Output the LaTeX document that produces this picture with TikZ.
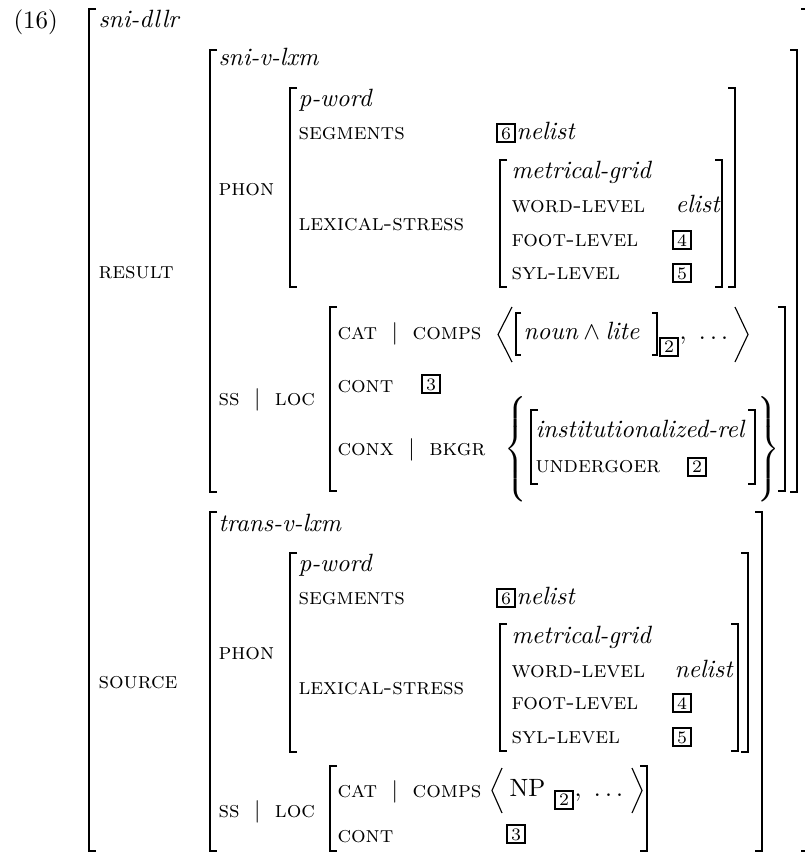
\documentclass[tikz,border=0pt]{standalone}
\usetikzlibrary{positioning}
\tikzset{
  lbl/.style={inner sep=0pt, anchor=base west, font=\fontsize{9.2}{11}\selectfont\scshape},
  typ/.style={inner sep=0pt, anchor=base west, font=\itshape},
  tag/.style={draw, line width=0.8pt, inner sep=0pt, minimum size=7.2pt,
    font=\scriptsize, anchor=base},
  brk/.style={line width=0.7pt},
  ang/.style={line width=0.45pt},
}
\newcommand{\lbrk}[4][7]{\draw[brk] (#2+#1,#3) -| (#2,#4) -- (#2+#1,#4);}
\newcommand{\rbrk}[4][7]{\draw[brk] (#2-#1,#3) -| (#2,#4) -- (#2-#1,#4);}
\newcommand{\pbar}{\hspace{5.8pt}$|$\hspace{5.8pt}}
\newcommand{\bigbrace}[1]{$\left#1\vcenter{\hbox{\rule{0pt}{40pt}}}\right.$}

\begin{document}
\begin{tikzpicture}[x=0.4pt, y=-0.4pt]
  \useasboundingbox (0,0) rectangle (805,854);
  % outer matrix
  \node[inner sep=0pt, anchor=base west] (ex) at (13,28) {(16)};
  \lbrk{89}{9}{851} \rbrk{808}{9}{851}
  \node[typ] (t0) at (98,27) {sni-dllr};
  \node[lbl] (res) at (98,278) {result};
  \node[lbl] (src) at (98,688) {source};

  % result: sni-v-lxm
  \lbrk{210}{50}{492} \rbrk{797}{50}{492}
  \node[typ] (t1) at (218,65) {sni-v-lxm};
  \node[lbl] (ph1) at (218,195) {phon};
  \lbrk{290}{88}{287} \rbrk{735}{88}{287}
  \node[typ] (pw1) at (298,106) {p-word};
  \node[lbl] (sg1) at (298,139) {segments};
  \node[tag] (g61) at (506,139) {6};
  \node[typ] (nl1) at (g61.base east) {nelist};
  \node[lbl] (lx1) at (298,230) {lexical-stress};
  \lbrk{500}{160}{287} \rbrk{722}{160}{287}
  \node[typ] (mg1) at (511,178) {metrical-grid};
  \node[lbl] (wl1) at (511,212) {word-level};
  \node[typ] (el1) at (675,212) {elist};
  \node[lbl] (fl1) at (511,246) {foot-level};
  \node[tag] (g41) at (682,246) {4};
  \node[lbl] (sl1) at (511,279) {syl-level};
  \node[tag] (g51) at (682,279) {5};
  \node[lbl] (ss1) at (218,405) {ss\pbar loc};
  \lbrk{330}{307}{491} \rbrk{785}{307}{491}
  \node[lbl] (ca1) at (337,339) {cat\pbar comps};
  \draw[ang] (512,307) -- (498,334.5) -- (512,362);
  \lbrk[5]{516}{313}{355}
  \node[inner sep=0pt, anchor=base west] (nl) at (523,339) {$\textit{noun} \wedge \textit{lite}$};
  \rbrk[5]{657}{313}{355}
  \node[tag, anchor=center] (g21) at (669,347) {2};
  \node[inner sep=0pt, anchor=base west] (dt1) at (679,339) {$,\ \ldots$};
  \draw[ang] (735,307) -- (748,334.5) -- (735,362);
  \node[lbl] (ct1) at (337,392) {cont};
  \node[tag] (g31) at (431,390) {3};
  \node[lbl] (cx1) at (337,455) {conx\pbar bkgr};
  \node[inner sep=0pt] (ob) at (517,449) {\bigbrace\{};
  \lbrk{531}{410}{484} \rbrk{755}{410}{484}
  \node[typ] (ir) at (535,437) {institutionalized-rel};
  \node[lbl] (ug) at (535,472) {undergoer};
  \node[tag, anchor=center] (g22) at (697,467) {2};
  \node[inner sep=0pt] (cb) at (770,449) {\bigbrace\}};

  % source: trans-v-lxm
  \lbrk{210}{512}{851} \rbrk{762}{512}{851}
  \node[typ] (t2) at (218,531) {trans-v-lxm};
  \node[lbl] (ph2) at (218,659) {phon};
  \lbrk{290}{553}{752} \rbrk{748}{553}{752}
  \node[typ] (pw2) at (298,571) {p-word};
  \node[lbl] (sg2) at (298,604) {segments};
  \node[tag] (g62) at (506,604) {6};
  \node[typ] (nl2) at (g62.base east) {nelist};
  \node[lbl] (lx2) at (298,694) {lexical-stress};
  \lbrk{500}{624}{751} \rbrk{738}{624}{751}
  \node[typ] (mg2) at (511,643) {metrical-grid};
  \node[lbl] (wl2) at (511,677) {word-level};
  \node[typ] (el2) at (674,677) {nelist};
  \node[lbl] (fl2) at (511,709) {foot-level};
  \node[tag] (g42) at (682,709) {4};
  \node[lbl] (sl2) at (511,743) {syl-level};
  \node[tag] (g52) at (682,743) {5};
  \node[lbl] (ss2) at (218,817) {ss\pbar loc};
  \lbrk{330}{766}{851} \rbrk{647}{766}{851}
  \node[lbl] (ca2) at (337,797) {cat\pbar comps};
  \draw[ang] (502,768) -- (492,790.5) -- (502,813);
  \node[inner sep=0pt, anchor=base west] (np) at (509,796) {NP};
  \node[tag, anchor=center] (g23) at (564,800) {2};
  \node[inner sep=0pt, anchor=base west] (dt2) at (574,796) {$,\ \ldots$};
  \draw[ang] (632,768) -- (642,790.5) -- (632,813);
  \node[lbl] (ct2) at (337,842) {cont};
  \node[tag] (g32) at (516,840) {3};
\end{tikzpicture}
\end{document}
